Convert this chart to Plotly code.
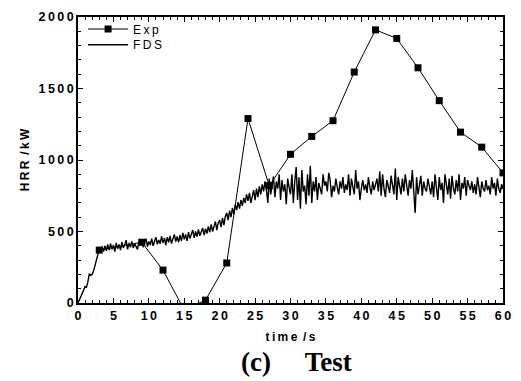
import plotly.graph_objects as go

# Experimental HRR (kW)
exp_t = [3, 9, 12, 15, 18, 21, 24, 27, 30, 33, 36, 39, 42, 45, 48, 51, 54, 57, 60]
exp_hrr = [370, 425, 230, -50, 20, 280, 1290, 820, 1040, 1165, 1275, 1615, 1910,
           1850, 1645, 1415, 1195, 1090, 910]

# FDS HRR (kW) every 0.2 s from 0 to 60 s
fds_hrr = [
    0, 20, 45, 70, 90, 115, 110, 150, 205, 195,
    200, 225, 265, 290, 340, 375, 355, 395, 360, 400,
    365, 410, 370, 415, 375, 405, 360, 420, 380, 410,
    370, 425, 385, 405, 440, 375, 420, 390, 430, 385,
    415, 395, 375, 430, 400, 445, 390, 420, 450, 395,
    430, 405, 450, 400, 435, 460, 410, 440, 415, 465,
    420, 455, 405, 460, 425, 470, 415, 450, 480, 430,
    465, 425, 475, 435, 490, 445, 480, 435, 495, 450,
    485, 510, 455, 500, 465, 515, 470, 505, 525, 475,
    520, 485, 535, 495, 550, 500, 540, 570, 510, 560,
    580, 530, 595, 545, 605, 630, 580, 645, 600, 665,
    620, 690, 650, 705, 660, 720, 680, 735, 700, 760,
    715, 770, 700, 745, 790, 720, 800, 740, 815, 760,
    830, 780, 850, 790, 700, 870, 760, 820, 885, 740,
    850, 800, 900, 720, 860, 780, 830, 690, 870, 810,
    760, 900, 700, 850, 950, 720, 880, 660, 930, 780,
    820, 690, 900, 750, 960, 700, 850, 780, 880, 720,
    840, 800, 760, 900, 820, 850, 780, 910, 860, 740,
    820, 780, 870, 810, 760, 850, 800, 880, 770, 830,
    790, 900, 750, 870, 820, 760, 930, 800, 850, 720,
    800, 860, 790, 830, 770, 880, 810, 760, 850, 790,
    830, 870, 780, 920, 750, 900, 800, 740, 860, 810,
    770, 890, 820, 760, 940, 720, 880, 830, 760, 870,
    780, 900, 820, 750, 860, 800, 930, 770, 630, 880,
    760, 820, 890, 750, 850, 800, 780, 870, 810, 760,
    850, 740, 900, 780, 720, 880, 790, 840, 700, 900,
    810, 760, 870, 730, 890, 800, 760, 860, 780, 900,
    720, 840, 800, 880, 750, 860, 820, 790, 850, 770,
    830, 760, 880, 800, 740, 850, 800, 780, 860, 790,
    820, 760, 880, 800, 840, 750, 870, 800, 770, 830,
    800,
]
fds_t = [round(i * 0.2, 1) for i in range(len(fds_hrr))]

x_ticks = [0, 5, 10, 15, 20, 25, 30, 35, 40, 45, 50, 55, 60]
y_ticks = [0, 500, 1000, 1500, 2000]

TS = "\u2009"   # thin space used as letter spacing
NB = "\u00a0"   # non-breaking word space


def spaced(s):
    return TS.join(list(s))


SANS = "Liberation Sans, Arial"

fig = go.Figure()
fig.add_trace(go.Scatter(
    x=exp_t, y=exp_hrr, mode="lines+markers", name=spaced("Exp"),
    line=dict(color="black", width=1),
    marker=dict(symbol="square", size=7, color="black"),
    legend="legend",
))
fig.add_trace(go.Scatter(
    x=fds_t, y=fds_hrr, mode="lines", name=spaced("FDS"),
    line=dict(color="black", width=1.4),
    legend="legend2",
))
# empty trace carrying the mirrored (top/right) tick axes
fig.add_trace(go.Scatter(x=[], y=[], xaxis="x2", yaxis="y2", showlegend=False,
                         hoverinfo="skip"))

tickfont = dict(family=SANS, size=12.5, color="black", weight="bold")
axis_common = dict(
    showline=True, linecolor="black", linewidth=1.5, mirror=True,
    ticks="inside", ticklen=5, tickwidth=1, tickcolor="black",
    showgrid=False, zeroline=False, tickfont=tickfont,
)
leg_common = dict(xanchor="left", yanchor="middle", bgcolor="rgba(0,0,0,0)",
                  borderwidth=0, itemwidth=40,
                  font=dict(family=SANS, size=12, color="black"))

fig.update_layout(
    width=521, height=381,
    margin=dict(l=78, r=10, t=15, b=78),
    paper_bgcolor="white", plot_bgcolor="white",
    showlegend=True,
    legend=dict(x=0.012, y=0.958, **leg_common),
    legend2=dict(x=0.012, y=0.903, **leg_common),
    xaxis=dict(range=[0, 60], tickmode="array", tickvals=x_ticks,
               ticktext=[spaced(str(v)) for v in x_ticks],
               minor=dict(dtick=1, tick0=0, ticks="inside", ticklen=3, tickcolor="black"),
               title=dict(text=spaced("time") + NB + TS + spaced("/s"),
                          font=dict(family=SANS, size=12, color="black", weight="bold"),
                          standoff=11),
               **axis_common),
    yaxis=dict(range=[0, 2000], tickmode="array", tickvals=y_ticks,
               ticktext=[spaced(str(v)) for v in y_ticks],
               minor=dict(dtick=100, tick0=0, ticks="inside", ticklen=3, tickcolor="black"),
               title=dict(text=spaced("HRR") + NB + TS + spaced("/kW"),
                          font=dict(family=SANS, size=12, color="black", weight="bold"),
                          standoff=6),
               **axis_common),
    xaxis2=dict(range=[0, 60], overlaying="x", side="top", showticklabels=False,
                ticks="inside", ticklen=5, tickvals=x_ticks, tickcolor="black",
                minor=dict(dtick=1, tick0=0, ticks="inside", ticklen=3, tickcolor="black"),
                showgrid=False, zeroline=False, showline=False),
    yaxis2=dict(range=[0, 2000], overlaying="y", side="right", showticklabels=False,
                ticks="inside", ticklen=5, tickvals=y_ticks, tickcolor="black",
                minor=dict(dtick=100, tick0=0, ticks="inside", ticklen=3, tickcolor="black"),
                showgrid=False, zeroline=False, showline=False),
)

fig.add_annotation(
    text="<b>(c)" + "&nbsp;" * 5 + "Test</b>", xref="paper", yref="paper",
    x=0.515, y=-0.205, xanchor="center", yanchor="middle", showarrow=False,
    font=dict(family="Liberation Serif, Times New Roman", size=27, color="black"),
)

fig.write_html("out.html")
